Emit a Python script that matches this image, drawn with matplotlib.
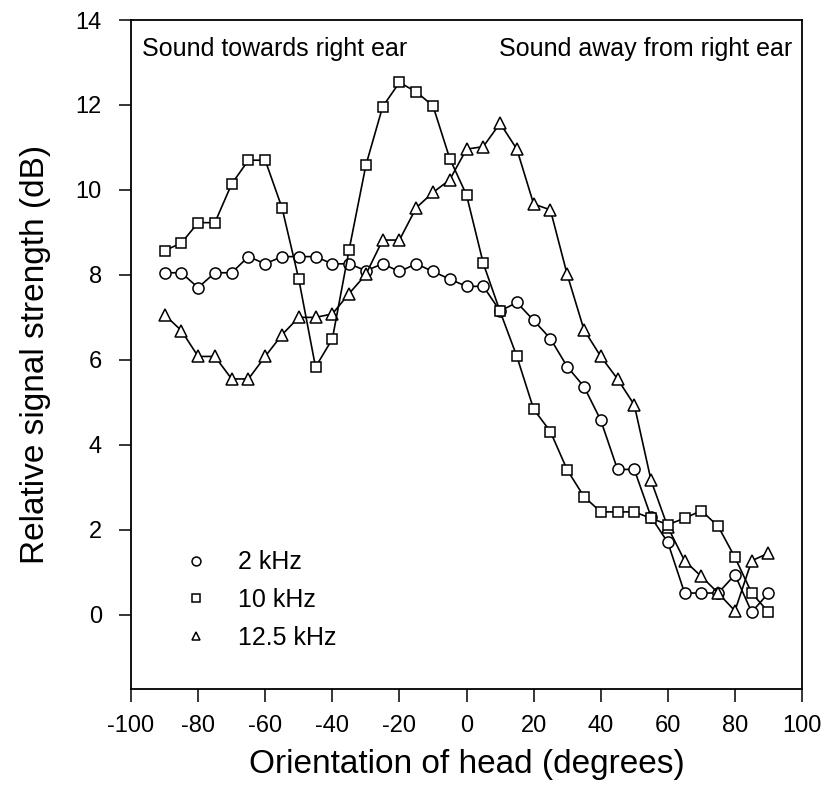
import matplotlib.pyplot as plt

plt.rcParams['font.family'] = ['Liberation Sans', 'DejaVu Sans']
plt.rcParams['axes.unicode_minus'] = False

# orientation of head (degrees)
angles = [-90, -85, -80, -75, -70, -65, -60, -55, -50, -45, -40, -35, -30,
          -25, -20, -15, -10, -5, 0, 5, 10, 15, 20, 25, 30, 35, 40, 45, 50,
          55, 60, 65, 70, 75, 80, 85, 90]

khz_2 = [8.05, 8.05, 7.70, 8.05, 8.05, 8.43, 8.26, 8.43, 8.43, 8.43, 8.26,
         8.26, 8.10, 8.26, 8.08, 8.26, 8.08, 7.90, 7.73, 7.73, 7.15, 7.35,
         6.93, 6.50, 5.84, 5.37, 4.58, 3.42, 3.42, 2.30, 1.70, 0.51, 0.51,
         0.51, 0.94, 0.06, 0.51]

khz_10 = [8.57, 8.75, 9.23, 9.23, 10.14, 10.70, 10.70, 9.58, 7.90, 5.83,
          6.49, 8.59, 10.58, 11.96, 12.53, 12.31, 11.98, 10.74, 9.88, 8.27,
          7.14, 6.08, 4.84, 4.31, 3.41, 2.78, 2.42, 2.42, 2.42, 2.27, 2.12,
          2.27, 2.45, 2.08, 1.35, 0.51, 0.06]

khz_12_5 = [7.06, 6.69, 6.08, 6.08, 5.55, 5.55, 6.08, 6.59, 7.00, 7.00, 7.08,
            7.56, 8.01, 8.82, 8.82, 9.58, 9.94, 10.24, 10.96, 11.02, 11.57,
            10.96, 9.67, 9.53, 8.01, 6.71, 6.08, 5.55, 4.94, 3.16, 2.06, 1.27,
            0.90, 0.51, 0.09, 1.27, 1.45]

fig = plt.figure(figsize=(8.26, 7.95), dpi=100)
ax = fig.add_axes([0.1586, 0.1333, 0.8124, 0.8415])

stile = dict(color='black', linewidth=1.2, markerfacecolor='white',
             markeredgecolor='black', markeredgewidth=1.1)
ax.plot(angles, khz_2, marker='o', markersize=8, label='2 kHz', **stile)
ax.plot(angles, khz_12_5, marker='^', markersize=8, label='12.5 kHz', **stile)
ax.plot(angles, khz_10, marker='s', markersize=7.5, label='10 kHz', **stile)

ax.set_xlim(-100, 100)
ax.set_ylim(-1.75, 14)
ax.set_xticks(range(-100, 101, 20))
ax.set_yticks(range(0, 15, 2))
ax.tick_params(axis='both', direction='out', length=9, width=1.1,
               labelsize=17, top=False, right=False)
ax.tick_params(axis='y', pad=12)
ax.tick_params(axis='x', pad=10)
for s in ax.spines.values():
    s.set_linewidth(1.3)

ax.set_xlabel('Orientation of head (degrees)', fontsize=24, labelpad=8)
ax.set_ylabel('Relative signal strength (dB)', fontsize=24, labelpad=18)

ax.text(0.016, 0.975, 'Sound towards right ear', transform=ax.transAxes,
        fontsize=18, va='top', ha='left')
ax.text(0.985, 0.975, 'Sound away from right ear', transform=ax.transAxes,
        fontsize=18, va='top', ha='right')

handles, labels = ax.get_legend_handles_labels()
order = [0, 2, 1]
ax.legend([handles[i] for i in order], [labels[i] for i in order],
          loc='lower left', bbox_to_anchor=(0.063, 0.025), frameon=False,
          fontsize=18, handlelength=0, handletextpad=1.7, markerscale=0.8,
          labelspacing=0.55)

fig.savefig('out.png', dpi=100)
